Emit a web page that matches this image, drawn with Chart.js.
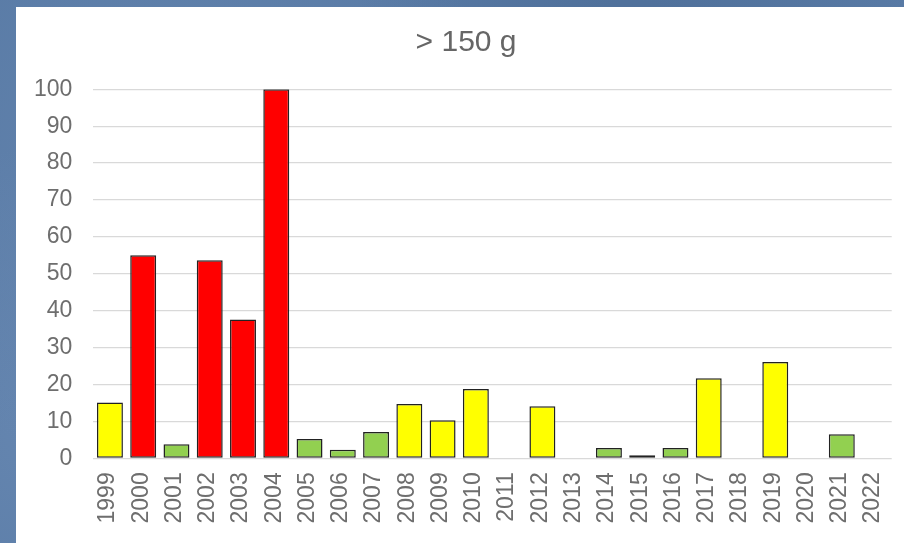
<!DOCTYPE html>
<html>
<head>
<meta charset="utf-8">
<script src="https://cdn.jsdelivr.net/npm/chart.js@4"></script>
<style>
  html, body { margin: 0; padding: 0; width: 904px; height: 543px; overflow: hidden; }
  body {
    background-color: #587aa5;
    background-image:
      radial-gradient(circle at 20% 30%, rgba(120,150,190,0.35) 0, rgba(120,150,190,0) 40%),
      radial-gradient(circle at 70% 10%, rgba(60,90,130,0.35) 0, rgba(60,90,130,0) 35%),
      radial-gradient(circle at 5% 80%, rgba(130,160,200,0.3) 0, rgba(130,160,200,0) 30%);
  }
  canvas { display: block; }
</style>
</head>
<body>
<canvas id="c" width="904" height="543"></canvas>
<script>
const titleText = "> 150 g";
const years = ["1999","2000","2001","2002","2003","2004","2005","2006","2007","2008","2009","2010","2011","2012","2013","2014","2015","2016","2017","2018","2019","2020","2021","2022"];
const values = [15.1, 55.0, 3.8, 53.7, 37.6, 100, 5.2, 2.3, 7.1, 14.7, 10.3, 18.8, 0, 14.1, 0, 2.8, 0.8, 2.8, 21.7, 0, 26.1, 0, 6.5, 0];
const levels = ["Y","R","G","R","R","R","G","G","G","Y","Y","Y","-","Y","-","G","G","G","Y","-","Y","-","G","-"];
const yTicks = [0, 10, 20, 30, 40, 50, 60, 70, 80, 90, 100];

const levelColor = { R: "#ff0000", Y: "#ffff00", G: "#92d050", "-": "#ffffff" };
const FONT = "'Liberation Sans', Arial, sans-serif";

const panelPlugin = {
  id: "panel",
  afterLayout(chart) {
    // shift the title block so it is centred where the reference places it
    const tb = chart.titleBlock;
    if (tb) { tb.left += 12.2; tb.right += 12.2; }
  },
  beforeDraw(chart) {
    const ctx = chart.ctx;
    ctx.save();
    ctx.fillStyle = "#ffffff";
    ctx.fillRect(16, 7, chart.width - 16, chart.height - 7);
    ctx.restore();
  }
};

new Chart(document.getElementById("c"), {
  type: "bar",
  plugins: [panelPlugin],
  data: {
    labels: years,
    datasets: [{
      data: values,
      backgroundColor: levels.map(l => levelColor[l]),
      borderColor: "#222222",
      borderWidth: (ctx) => (values[ctx.dataIndex] > 0 ? 1.5 : 0),
      borderSkipped: false,
      barPercentage: 0.78,
      categoryPercentage: 1.0
    }]
  },
  options: {
    responsive: false,
    animation: false,
    devicePixelRatio: 1,
    layout: { padding: { top: 24.5, left: 16, right: 12.3, bottom: 0 } },
    plugins: {
      legend: { display: false },
      tooltip: { enabled: false },
      title: {
        display: true,
        text: titleText,
        color: "#666666",
        font: { family: FONT, size: 30, weight: "normal" },
        padding: { top: 0, bottom: 28.8 }
      }
    },
    scales: {
      x: {
        grid: { display: false, drawTicks: false },
        border: { display: false },
        ticks: {
          color: "#6e6e6e",
          font: { family: FONT, size: 23 },
          minRotation: 90,
          maxRotation: 90,
          padding: 14,
          labelOffset: -2,
          autoSkip: false
        },
        afterFit: (s) => { s.height = 84.7; s.paddingLeft = 0; s.paddingRight = 0; }
      },
      y: {
        min: 0,
        max: 100,
        afterBuildTicks: (s) => { s.ticks = yTicks.map(v => ({ value: v })); },
        grid: { color: "#d9d9d9", lineWidth: 1.3, drawTicks: false },
        border: { display: false },
        ticks: {
          color: "#6e6e6e",
          font: { family: FONT, size: 23 },
          padding: 21
        },
        afterFit: (s) => { s.width = 77.3; s.paddingTop = 0; s.paddingBottom = 0; }
      }
    }
  }
});
</script>
</body>
</html>
